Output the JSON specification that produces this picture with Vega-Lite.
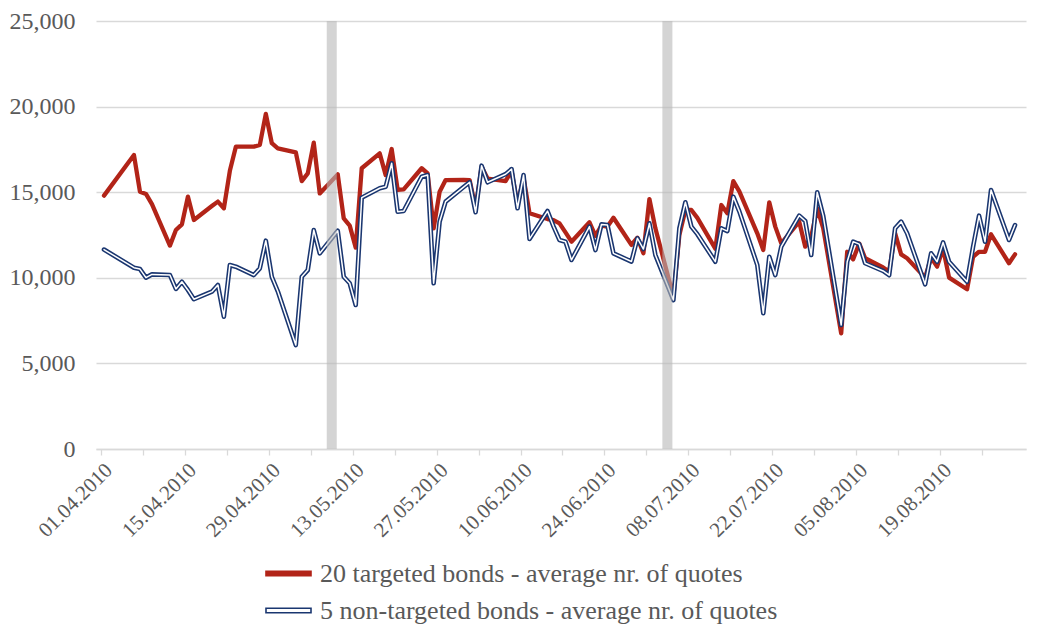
{
  "$schema": "https://vega.github.io/schema/vega-lite/v6.json",
  "width": 930,
  "height": 428,
  "autosize": "none",
  "padding": {"left": 96, "top": 21, "right": 21, "bottom": 175},
  "background": "white",
  "config": {"view": {"stroke": null}, "font": "Liberation Serif"},
  "datasets": {
    "quotes": [
      {"date": "2010-04-01", "targeted": 14800, "nontargeted": 11650},
      {"date": "2010-04-06", "targeted": 17170, "nontargeted": 10590},
      {"date": "2010-04-07", "targeted": 15030, "nontargeted": 10510},
      {"date": "2010-04-08", "targeted": 14900, "nontargeted": 10010},
      {"date": "2010-04-09", "targeted": 14300, "nontargeted": 10200},
      {"date": "2010-04-12", "targeted": 11880, "nontargeted": 10160},
      {"date": "2010-04-13", "targeted": 12790, "nontargeted": 9350},
      {"date": "2010-04-14", "targeted": 13120, "nontargeted": 9770},
      {"date": "2010-04-15", "targeted": 14740, "nontargeted": 9290},
      {"date": "2010-04-16", "targeted": 13380, "nontargeted": 8750},
      {"date": "2010-04-19", "targeted": 14190, "nontargeted": 9190},
      {"date": "2010-04-20", "targeted": 14450, "nontargeted": 9580},
      {"date": "2010-04-21", "targeted": 14060, "nontargeted": 7730},
      {"date": "2010-04-22", "targeted": 16250, "nontargeted": 10750},
      {"date": "2010-04-23", "targeted": 17660, "nontargeted": 10650},
      {"date": "2010-04-26", "targeted": 17660, "nontargeted": 10160},
      {"date": "2010-04-27", "targeted": 17760, "nontargeted": 10550},
      {"date": "2010-04-28", "targeted": 19570, "nontargeted": 12170},
      {"date": "2010-04-29", "targeted": 17860, "nontargeted": 10060},
      {"date": "2010-04-30", "targeted": 17560, "nontargeted": 9210},
      {"date": "2010-05-03", "targeted": 17330, "nontargeted": 6070},
      {"date": "2010-05-04", "targeted": 15650, "nontargeted": 10060},
      {"date": "2010-05-05", "targeted": 16100, "nontargeted": 10450},
      {"date": "2010-05-06", "targeted": 17890, "nontargeted": 12790},
      {"date": "2010-05-07", "targeted": 14930, "nontargeted": 11430},
      {"date": "2010-05-10", "targeted": 16040, "nontargeted": 12750},
      {"date": "2010-05-11", "targeted": 13470, "nontargeted": 10060},
      {"date": "2010-05-12", "targeted": 13050, "nontargeted": 9680},
      {"date": "2010-05-13", "targeted": 11760, "nontargeted": 8410},
      {"date": "2010-05-14", "targeted": 16400, "nontargeted": 14680},
      {"date": "2010-05-17", "targeted": 17270, "nontargeted": 15230},
      {"date": "2010-05-18", "targeted": 16000, "nontargeted": 15320},
      {"date": "2010-05-19", "targeted": 17520, "nontargeted": 16690},
      {"date": "2010-05-20", "targeted": 15130, "nontargeted": 13860},
      {"date": "2010-05-21", "targeted": 15170, "nontargeted": 13900},
      {"date": "2010-05-24", "targeted": 16400, "nontargeted": 15900},
      {"date": "2010-05-25", "targeted": 16100, "nontargeted": 16000},
      {"date": "2010-05-26", "targeted": 12890, "nontargeted": 9680},
      {"date": "2010-05-27", "targeted": 15030, "nontargeted": 13280},
      {"date": "2010-05-28", "targeted": 15710, "nontargeted": 14450},
      {"date": "2010-05-31", "targeted": 15720, "nontargeted": 15300},
      {"date": "2010-06-01", "targeted": 15710, "nontargeted": 15580},
      {"date": "2010-06-02", "targeted": 14060, "nontargeted": 13830},
      {"date": "2010-06-03", "targeted": 16490, "nontargeted": 16550},
      {"date": "2010-06-04", "targeted": 15800, "nontargeted": 15580},
      {"date": "2010-06-07", "targeted": 15650, "nontargeted": 16050},
      {"date": "2010-06-08", "targeted": 16250, "nontargeted": 16350},
      {"date": "2010-06-09", "targeted": 14250, "nontargeted": 14060},
      {"date": "2010-06-10", "targeted": 15850, "nontargeted": 16000},
      {"date": "2010-06-11", "targeted": 13770, "nontargeted": 12270},
      {"date": "2010-06-14", "targeted": 13430, "nontargeted": 13900},
      {"date": "2010-06-15", "targeted": 13370, "nontargeted": 13000},
      {"date": "2010-06-16", "targeted": 13180, "nontargeted": 12210},
      {"date": "2010-06-17", "targeted": 12650, "nontargeted": 12110},
      {"date": "2010-06-18", "targeted": 12110, "nontargeted": 11040},
      {"date": "2010-06-21", "targeted": 13240, "nontargeted": 12990},
      {"date": "2010-06-22", "targeted": 12450, "nontargeted": 11620},
      {"date": "2010-06-23", "targeted": 13050, "nontargeted": 13120},
      {"date": "2010-06-24", "targeted": 12990, "nontargeted": 13080},
      {"date": "2010-06-25", "targeted": 13510, "nontargeted": 11430},
      {"date": "2010-06-28", "targeted": 11920, "nontargeted": 10950},
      {"date": "2010-06-29", "targeted": 12340, "nontargeted": 12310},
      {"date": "2010-06-30", "targeted": 11430, "nontargeted": 11680},
      {"date": "2010-07-01", "targeted": 14600, "nontargeted": 13180},
      {"date": "2010-07-02", "targeted": 12890, "nontargeted": 11330},
      {"date": "2010-07-05", "targeted": 8900, "nontargeted": 8700},
      {"date": "2010-07-06", "targeted": 12500, "nontargeted": 12890},
      {"date": "2010-07-07", "targeted": 13960, "nontargeted": 14410},
      {"date": "2010-07-08", "targeted": 13960, "nontargeted": 12990},
      {"date": "2010-07-09", "targeted": 13500, "nontargeted": 12550},
      {"date": "2010-07-12", "targeted": 11700, "nontargeted": 10940},
      {"date": "2010-07-13", "targeted": 14250, "nontargeted": 12890},
      {"date": "2010-07-14", "targeted": 13770, "nontargeted": 12730},
      {"date": "2010-07-15", "targeted": 15650, "nontargeted": 14740},
      {"date": "2010-07-16", "targeted": 15050, "nontargeted": 13880},
      {"date": "2010-07-19", "targeted": 12600, "nontargeted": 10750},
      {"date": "2010-07-20", "targeted": 11620, "nontargeted": 7930},
      {"date": "2010-07-21", "targeted": 14410, "nontargeted": 11230},
      {"date": "2010-07-22", "targeted": 12990, "nontargeted": 10160},
      {"date": "2010-07-23", "targeted": 12010, "nontargeted": 11820},
      {"date": "2010-07-26", "targeted": 13280, "nontargeted": 13630},
      {"date": "2010-07-27", "targeted": 11820, "nontargeted": 13320},
      {"date": "2010-07-28", "targeted": 12400, "nontargeted": 11330},
      {"date": "2010-07-29", "targeted": 14060, "nontargeted": 14990},
      {"date": "2010-07-30", "targeted": 12900, "nontargeted": 13620},
      {"date": "2010-08-02", "targeted": 6760, "nontargeted": 7240},
      {"date": "2010-08-03", "targeted": 11520, "nontargeted": 10940},
      {"date": "2010-08-04", "targeted": 11080, "nontargeted": 12110},
      {"date": "2010-08-05", "targeted": 12010, "nontargeted": 11970},
      {"date": "2010-08-06", "targeted": 11140, "nontargeted": 10850},
      {"date": "2010-08-09", "targeted": 10600, "nontargeted": 10400},
      {"date": "2010-08-10", "targeted": 10370, "nontargeted": 10150},
      {"date": "2010-08-11", "targeted": 12600, "nontargeted": 12890},
      {"date": "2010-08-12", "targeted": 11370, "nontargeted": 13280},
      {"date": "2010-08-13", "targeted": 11140, "nontargeted": 12600},
      {"date": "2010-08-16", "targeted": 10010, "nontargeted": 9620},
      {"date": "2010-08-17", "targeted": 11180, "nontargeted": 11430},
      {"date": "2010-08-18", "targeted": 10650, "nontargeted": 10940},
      {"date": "2010-08-19", "targeted": 11720, "nontargeted": 12070},
      {"date": "2010-08-20", "targeted": 10010, "nontargeted": 10940},
      {"date": "2010-08-23", "targeted": 9330, "nontargeted": 9770},
      {"date": "2010-08-24", "targeted": 11230, "nontargeted": 11800},
      {"date": "2010-08-25", "targeted": 11520, "nontargeted": 13630},
      {"date": "2010-08-26", "targeted": 11520, "nontargeted": 12110},
      {"date": "2010-08-27", "targeted": 12540, "nontargeted": 15130},
      {"date": "2010-08-30", "targeted": 10850, "nontargeted": 12210},
      {"date": "2010-08-31", "targeted": 11370, "nontargeted": 13080}
    ],
    "events": [
      {"event": "2010-05-09"},
      {"event": "2010-07-04"}
    ]
  },
  "layer": [
    {
      "data": {"name": "quotes"},
      "transform": [
        {"fold": ["targeted", "nontargeted"], "as": ["series", "value"]},
        {"filter": "datum.series === 'targeted'"}
      ],
      "mark": {"type": "line", "strokeWidth": 4.3, "strokeJoin": "round", "strokeCap": "round"},
      "encoding": {
        "x": {
          "field": "date",
          "type": "temporal",
          "scale": {
            "type": "utc",
            "domain": [
              {"year": 2010, "month": 3, "date": 31, "hours": 12, "utc": true},
              {"year": 2010, "month": 9, "date": 1, "hours": 0, "utc": true}
            ]
          },
          "axis": {
            "title": null,
            "values": [
              {"year": 2010, "month": 3, "date": 31, "hours": 12, "utc": true},
              {"year": 2010, "month": 4, "date": 7, "hours": 12, "utc": true},
              {"year": 2010, "month": 4, "date": 14, "hours": 12, "utc": true},
              {"year": 2010, "month": 4, "date": 21, "hours": 12, "utc": true},
              {"year": 2010, "month": 4, "date": 28, "hours": 12, "utc": true},
              {"year": 2010, "month": 5, "date": 5, "hours": 12, "utc": true},
              {"year": 2010, "month": 5, "date": 12, "hours": 12, "utc": true},
              {"year": 2010, "month": 5, "date": 19, "hours": 12, "utc": true},
              {"year": 2010, "month": 5, "date": 26, "hours": 12, "utc": true},
              {"year": 2010, "month": 6, "date": 2, "hours": 12, "utc": true},
              {"year": 2010, "month": 6, "date": 9, "hours": 12, "utc": true},
              {"year": 2010, "month": 6, "date": 16, "hours": 12, "utc": true},
              {"year": 2010, "month": 6, "date": 23, "hours": 12, "utc": true},
              {"year": 2010, "month": 6, "date": 30, "hours": 12, "utc": true},
              {"year": 2010, "month": 7, "date": 7, "hours": 12, "utc": true},
              {"year": 2010, "month": 7, "date": 14, "hours": 12, "utc": true},
              {"year": 2010, "month": 7, "date": 21, "hours": 12, "utc": true},
              {"year": 2010, "month": 7, "date": 28, "hours": 12, "utc": true},
              {"year": 2010, "month": 8, "date": 4, "hours": 12, "utc": true},
              {"year": 2010, "month": 8, "date": 11, "hours": 12, "utc": true},
              {"year": 2010, "month": 8, "date": 18, "hours": 12, "utc": true},
              {"year": 2010, "month": 8, "date": 25, "hours": 12, "utc": true}
            ],
            "labelExpr": "(round((toNumber(datum.value) - utc(2010, 2, 31, 12)) / 86400000) % 14 === 0) ? utcFormat(toNumber(datum.value) + 43200000, '%d.%m.%Y') : ''",
            "labelAngle": -45,
            "labelFontSize": 21,
            "labelFont": "Liberation Serif",
            "labelColor": "#595959",
            "labelPadding": 4,
            "labelOverlap": false,
            "labelFlush": false,
            "labelBound": false,
            "grid": false,
            "domainColor": "#d9d9d9",
            "domainWidth": 1.3,
            "tickColor": "#d9d9d9",
            "tickWidth": 1.3,
            "tickSize": 6
          }
        },
        "y": {
          "field": "value",
          "type": "quantitative",
          "scale": {"domain": [0, 25000], "nice": false, "zero": true},
          "axis": {
            "title": null,
            "values": [0, 5000, 10000, 15000, 20000, 25000],
            "format": ",.0f",
            "grid": true,
            "gridColor": "#d9d9d9",
            "gridWidth": 1.3,
            "domain": false,
            "ticks": false,
            "labelFontSize": 24,
            "labelFont": "Liberation Serif",
            "labelColor": "#595959",
            "labelPadding": 21
          }
        },
        "color": {
          "field": "series",
          "type": "nominal",
          "scale": {"domain": ["targeted", "nontargeted"], "range": ["#b22418", "#1a3670"]},
          "legend": {
            "title": null,
            "orient": "none",
            "legendX": 169,
            "legendY": 529,
            "direction": "vertical",
            "symbolType": "M-1,-0.1L1,-0.1L1,0.1L-1,0.1Z",
            "symbolSize": 2025,
            "symbolStrokeWidth": 1.6,
            "labelExpr": "datum.value === 'targeted' ? '20 targeted bonds - average nr. of quotes' : '5 non-targeted bonds - average nr. of quotes'",
            "labelFont": "Liberation Serif",
            "labelFontSize": 26,
            "labelColor": "#595959",
            "labelLimit": 800,
            "labelOffset": 8,
            "rowPadding": -13,
            "encode": {
              "symbols": {
                "update": {
                  "fill": {"signal": "datum.value === 'targeted' ? '#b22418' : '#ffffff'"},
                  "stroke": {"signal": "datum.value === 'targeted' ? '#b22418' : '#1a3670'"},
                  "strokeWidth": {"value": 1.6},
                  "opacity": {"value": 1}
                }
              }
            }
          }
        }
      }
    },
    {
      "data": {"name": "quotes"},
      "transform": [
        {"fold": ["targeted", "nontargeted"], "as": ["series", "value"]},
        {"filter": "datum.series === 'nontargeted'"}
      ],
      "mark": {"type": "line", "strokeWidth": 4.6, "strokeJoin": "round", "strokeCap": "round"},
      "encoding": {
        "x": {"field": "date", "type": "temporal"},
        "y": {"field": "value", "type": "quantitative"},
        "color": {"field": "series", "type": "nominal"}
      }
    },
    {
      "data": {"name": "quotes"},
      "mark": {"type": "line", "strokeWidth": 1.5, "stroke": "#ffffff", "strokeJoin": "round", "strokeCap": "round"},
      "encoding": {
        "x": {"field": "date", "type": "temporal"},
        "y": {"field": "nontargeted", "type": "quantitative"}
      }
    },
    {
      "data": {"name": "events"},
      "mark": {"type": "bar", "size": 10, "color": "#b7b7b7", "opacity": 0.6},
      "encoding": {
        "x": {"field": "event", "type": "temporal"},
        "y": {"datum": 25000, "type": "quantitative"}
      }
    }
  ]
}
